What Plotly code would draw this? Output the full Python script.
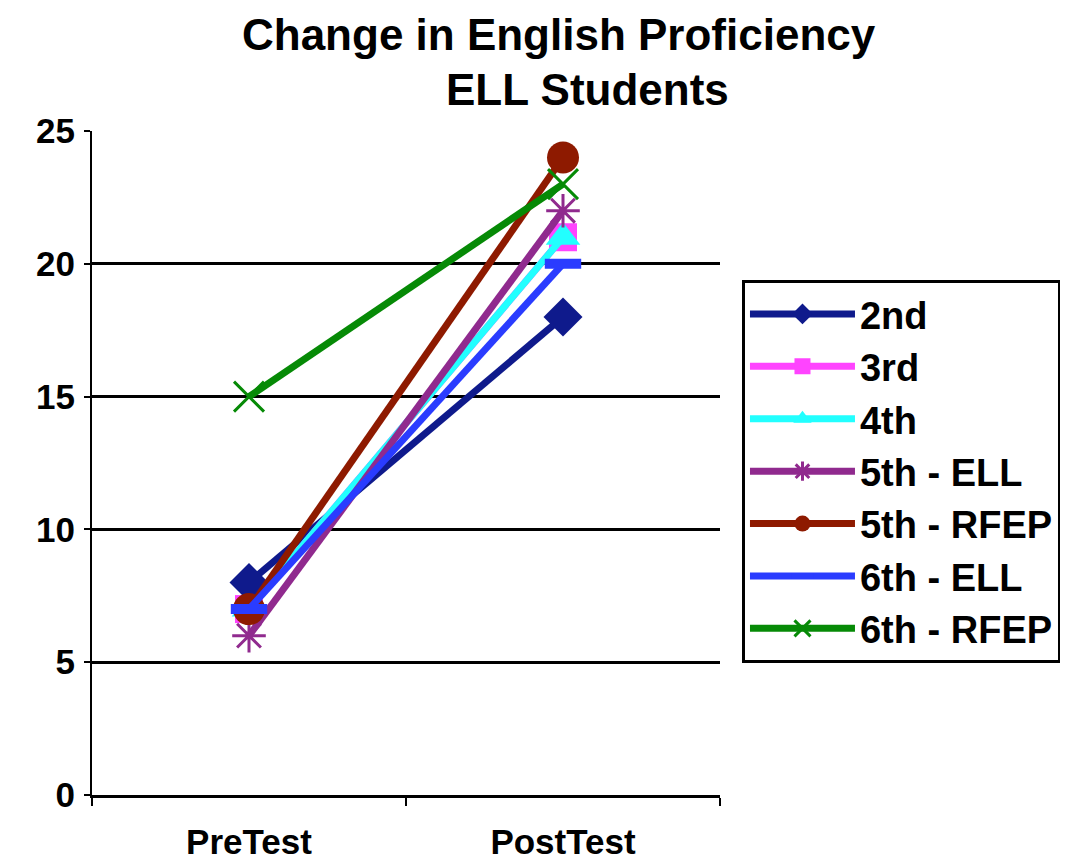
import plotly.graph_objects as go

tests = ["PreTest", "PostTest"]
series_names = ["2nd", "3rd", "4th", "5th - ELL", "5th - RFEP", "6th - ELL", "6th - RFEP"]
scores_2nd = [8, 18]
scores_3rd = [7, 21]
scores_4th = [7, 21]
scores_5th_ell = [6, 22]
scores_5th_rfep = [7, 24]
scores_6th_ell = [7, 20]
scores_6th_rfep = [15, 23]

all_scores = [scores_2nd, scores_3rd, scores_4th, scores_5th_ell,
              scores_5th_rfep, scores_6th_ell, scores_6th_rfep]
colors = ["#0f1a8c", "#ff44ff", "#22ffff", "#902a8e", "#8e1a00", "#2a3cff", "#068a06"]
symbols = ["diamond", "square", "triangle-up", "asterisk-open", "circle", "line-ew-open", "x-thin-open"]
sizes = [30, 28, 30, 28, 32, 26, 30]
marker_lines = [0, 0, 0, 3, 0, 10, 3]

FONT = "Arial, Liberation Sans, sans-serif"

# page body adds an 8px offset, so margins are trimmed by that amount
fig = go.Figure()
for name, ys, c, s, sz, lw in zip(series_names, all_scores, colors, symbols, sizes, marker_lines):
    fig.add_trace(go.Scatter(
        x=tests, y=ys, name=name, mode="lines+markers",
        line=dict(color=c, width=7),
        marker=dict(symbol=s, size=sz, color=c, line=dict(color=c, width=lw)),
        cliponaxis=False,
    ))

fig.update_layout(
    width=1068, height=859,
    margin=dict(l=84, r=356, t=123, b=72),
    paper_bgcolor="white", plot_bgcolor="white",
    font=dict(family=FONT, color="black"),
    showlegend=True,
    legend=dict(
        x=1.035, y=0.776, xanchor="left", yanchor="top",
        font=dict(size=38, family=FONT, weight="bold"),
        bordercolor="black", borderwidth=3, bgcolor="white",
        itemwidth=105,
    ),
    annotations=[
        dict(text="<b>Change in English Proficiency</b>", xref="paper", yref="paper",
             x=(240 - 92) / 628, y=1.0 + (131 - 35) / 664, xanchor="left", yanchor="middle",
             showarrow=False, font=dict(size=44, family=FONT)),
        dict(text="<b>ELL Students</b>", xref="paper", yref="paper",
             x=(587 - 92) / 628, y=1.0 + (131 - 90) / 664, xanchor="center", yanchor="middle",
             showarrow=False, font=dict(size=44, family=FONT)),
    ],
)

fig.update_xaxes(
    type="category", range=[-0.5, 1.5], automargin=False,
    showline=True, linecolor="black", linewidth=3,
    ticks="outside", tickson="boundaries", ticklen=8, tickwidth=2, tickcolor="black",
    tickfont=dict(size=35, family=FONT, weight="bold"),
    ticklabelstandoff=14,
    showgrid=False, zeroline=False,
)
fig.update_yaxes(
    range=[0, 25], dtick=5, automargin=False,
    showline=True, linecolor="black", linewidth=2,
    ticks="outside", ticklen=6, tickwidth=2, tickcolor="black",
    tickfont=dict(size=35, family=FONT, weight="bold"),
    ticklabelstandoff=2,
    showgrid=True, gridcolor="black", gridwidth=3,
    zeroline=False,
)

fig.write_html("out.html")
